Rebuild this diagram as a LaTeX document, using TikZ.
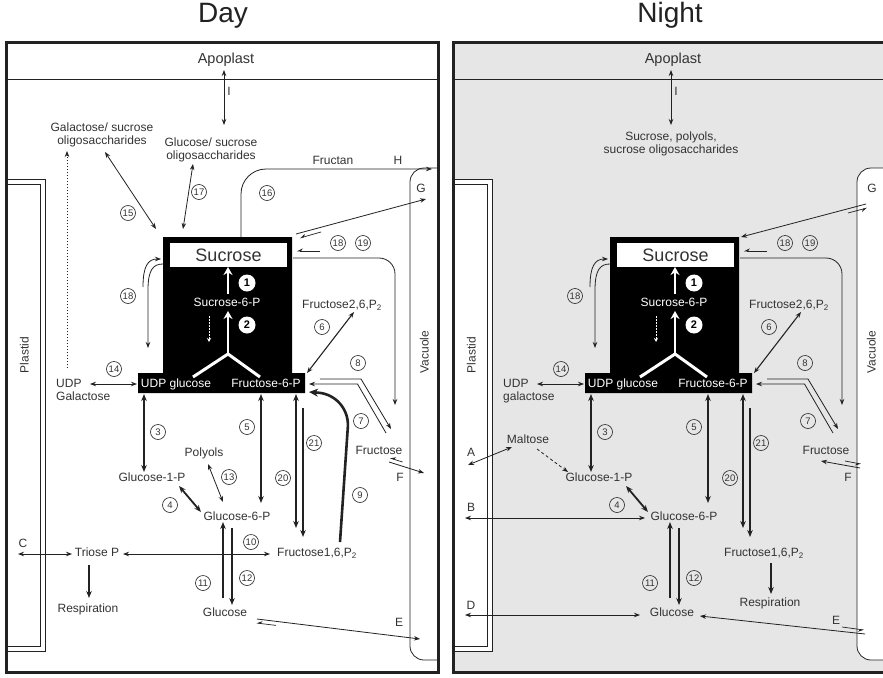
\documentclass[tikz,border=0pt]{standalone}
\usepackage{fontspec}
\setmainfont{Liberation Sans}
\usetikzlibrary{arrows.meta}
\definecolor{tx}{HTML}{333333}
\definecolor{ln}{HTML}{222222}
\definecolor{nbg}{HTML}{E6E6E6}
\tikzset{
  lbl/.style={font=\fontsize{12pt}{13pt}\selectfont, text=tx, inner sep=0pt, text height=0.72em, text depth=0pt},
  mlbl/.style={font=\fontsize{12pt}{13pt}\selectfont, text=tx, inner sep=0pt, align=center, anchor=north},
  wlbl/.style={lbl, text=white},
  num/.style={circle, draw=ln, line width=0.6pt, minimum size=15pt, inner sep=0pt, font=\fontsize{9.5pt}{10pt}\selectfont, text=tx},
  wnum/.style={circle, fill=white, minimum size=17pt, inner sep=0pt, font=\bfseries\fontsize{11pt}{11pt}\selectfont, text=black},
  ttl/.style={font=\fontsize{28pt}{30pt}\selectfont, text=ln, inner sep=0pt, text height=0.72em, text depth=0pt},
  ar/.style={draw=ln, line width=0.8pt, -{Stealth[length=6pt,width=4.5pt]}},
  dar/.style={draw=ln, line width=0.8pt, {Stealth[length=6pt,width=4.5pt]}-{Stealth[length=6pt,width=4.5pt]}},
  tar/.style={draw=ln, line width=1.5pt, -{Stealth[length=7pt,width=5.5pt]}},
  tdar/.style={draw=ln, line width=1.5pt, {Stealth[length=7pt,width=5.5pt]}-{Stealth[length=7pt,width=5.5pt]}},
  harp/.style={draw=ln, line width=0.7pt, -{Stealth[harpoon,swap,length=5pt,width=5pt]}},
  wall/.style={draw=ln, line width=0.8pt},
}
\newcommand{\cellcommon}[2]{%
  % plastid
  \draw[wall, fill=white] (7,179) -- (45,179) -- (45,651) -- (7,651);
  \draw[wall] (7,184) -- (40,184) -- (40,646) -- (7,646);
  \node[lbl, rotate=90] (#1plastid) at (25,355) {Plastid};
  % vacuole
  \draw[wall, fill=white, rounded corners=14pt] (438,168) -- (410,168) -- (410,660) -- (438,660);
  \node[lbl, rotate=90] (#1vac) at (425,352) {Vacuole};
  % apoplast
  \node[lbl, font=\fontsize{14.5pt}{15pt}\selectfont] (#1apo) at (226,60) {Apoplast};
  \draw[dar] (224,70) -- (224,125);
  \node[lbl] (#1I) at (229,92) {I};
  % black block
  \fill[black] (163,237) -- (292,237) -- (292,373) -- (305,373) -- (305,393) -- (138,393) -- (138,373) -- (163,373) -- cycle;
  \node[fill=white, minimum width=117pt, minimum height=24pt, inner sep=0pt, font=\fontsize{18pt}{18pt}\selectfont, text=tx] (#1suc) at (228.5,255) {Sucrose};
  \draw[white, line width=2.4pt, -{Stealth[length=8pt,width=9pt]}] (228,294) -- (228,267);
  \node[wlbl] (#1s6p) at (227,303) {Sucrose-6-P};
  \draw[white, line width=2.4pt, -{Stealth[length=8pt,width=9pt]}] (228,355) -- (228,311);
  \draw[white, line width=3pt] (193,377) -- (228,354) -- (260,377);
  \draw[white, line width=0.9pt, dash pattern=on 1.5pt off 1.5pt, -{Stealth[length=4pt,width=4pt]}] (209,316) -- (209,342);
  \node[wnum] (#1n1) at (247,283) {1};
  \node[wnum] (#1n2) at (247,325) {2};
  \node[wlbl] (#1udpg) at (176,384) {UDP glucose};
  \node[wlbl] (#1f6p) at (266,384) {Fructose-6-P};
  % 18 left
  \draw[ar] (143,287) .. controls (143,266) and (148,259) .. (161,259);
  \draw[ar] (163,264) .. controls (153,264) and (148,270) .. (148,290) -- (148,348);
  \node[num] (#1n18a) at (128,296) {18};
  % 18 19 right
  \node[num] (#1n18b) at (338,243) {18};
  \node[num] (#1n19) at (363,243) {19};
  \draw[harp] (320,251) -- (297,251);
  \draw[ar, rounded corners=16pt] (293,258) -- (395,258) -- (395,405);
  % fructose 2,6
  \node[lbl] (#1f26) at (342,305) {Fructose2,6,P\textsubscript{2}};
  \node[num] (#1n6) at (322,327) {6};
  \draw[dar, line width=1.1pt] (307,373) -- (354,312);
  % 7 8
  \node[num] (#1n8) at (358,363) {8};
  \node[num] (#1n7) at (361,421) {7};
  \draw[ar] (386,433) -- (357.5,384) -- (309,384);
  \draw[ar] (320,379) -- (361,379) -- (391,429);
  \node[lbl] (#1fru) at (379,451) {Fructose};
  % 14
  \node[num] (#1n14) at (114,369) {14};
  \draw[dar] (90,384) -- (137,384);
  \node[lbl, anchor=west] (#1udp) at (56,384) {UDP};
  \node[lbl, anchor=west] (#1gal) at (56,397) {#2};
  % 3
  \draw[tdar] (144,394) -- (144,472);
  \node[num] (#1n3) at (158,432) {3};
  \node[lbl] (#1g1p) at (152,478) {Glucose-1-P};
  % 5
  \draw[tdar] (261,394) -- (261,503);
  \node[num] (#1n5) at (247,427) {5};
  \node[lbl] (#1g6p) at (237,517) {Glucose-6-P};
  % 4
  \draw[tdar, line width=1.8pt] (179,486) -- (201,512);
  \node[num] (#1n4) at (170,505) {4};
  % 20 21
  \draw[tdar] (296,394) -- (296,528);
  \draw[tar] (303,408) -- (303,537);
  \node[num] (#1n20) at (283,478) {20};
  \node[num] (#1n21) at (314,443) {21};
  \node[lbl] (#1f16) at (317,553) {Fructose1,6,P\textsubscript{2}};
  % 11 12
  \draw[tar] (223,598) -- (223,522);
  \draw[tar] (232,528) -- (232,605);
  \node[num] (#1n11) at (203,583) {11};
  \node[num] (#1n12) at (247,578) {12};
  \node[lbl] (#1glc) at (225,613) {Glucose};
}
\begin{document}
\begin{tikzpicture}[x=1pt,y=-1pt]
\useasboundingbox (0,0) rectangle (883,677);
\clip (0,0) rectangle (883,677);
\fill[white] (0,0) rectangle (883,677);
\fill[nbg] (453,43) rectangle (885,672);

% ---------------- common parts
\begin{scope}
\cellcommon{d}{Galactose}
\end{scope}
\begin{scope}[xshift=447pt]
\cellcommon{n}{galactose}
\end{scope}

% ---------------- Day only
\node[ttl] (daytitle) at (223,19) {Day};
\node[mlbl] (galoli) at (102,122.5) {Galactose/ sucrose\\oligosaccharides};
\node[mlbl] (gluoli) at (211,137.5) {Glucose/ sucrose\\oligosaccharides};
\draw[ln, line width=0.8pt, dash pattern=on 1.5pt off 1.5pt, -{Stealth[length=6pt,width=4.5pt]}] (67,368) -- (67,151);
\draw[dar] (105,152) -- (156,229);
\node[num] (dn15) at (128,213) {15};
\draw[dar] (193,164) -- (183,229);
\node[num] (dn17) at (199,192) {17};
\draw[ar, rounded corners=25pt] (241,237) -- (241,169) -- (432,169);
\node[num] (dn16) at (267,193) {16};
\node[lbl] (fructan) at (333,161) {Fructan};
\node[lbl] (dH) at (398,161) {H};
% G out
\draw[ar] (296,234) -- (426,199);
\draw[harp] (321,232) -- (300,238);
\node[lbl] (dG) at (421,189) {G};
% F out
\draw[ar] (389,462) -- (424,473);
\draw[harp] (402.5,462) -- (390,458);
\node[lbl] (dF) at (400,478) {F};
% 9
\draw[ln, line width=2.6pt, -{Stealth[length=9pt,width=8pt]}, rounded corners=32pt] (340,542) -- (350,395) -- (309,392);
\node[num] (dn9) at (360,495) {9};
% polyols
\node[lbl] (polyols) at (204,453) {Polyols};
\draw[dar] (208,464) -- (223,502);
\node[num] (dn13) at (229,477) {13};
% triose
\node[lbl] (triose) at (97,553) {Triose P};
\draw[dar] (123,554) -- (270,554);
\node[num] (dn10) at (251,542) {10};
\draw[dar] (18,554) -- (72,554);
\node[lbl] (dC) at (23,544) {C};
\draw[tar] (89,565) -- (89,598);
\node[lbl] (dresp) at (88,609) {Respiration};
% E out
\draw[ar] (257,619) -- (420,639);
\draw[harp] (276,625.4) -- (256.5,623);
\node[lbl] (dE) at (399,623) {E};

% ---------------- Night only
\node[ttl] (nighttitle) at (670,19) {Night};
\node[mlbl] (noli) at (671,131.5) {Sucrose, polyols,\\sucrose oligosaccharides};
% G in
\draw[ar] (866,204) -- (741,237);
\draw[harp] (848,213) -- (867,208);
\node[lbl] (nG) at (872,189) {G};
% F in
\draw[ar] (860,468) -- (821,461);
\draw[harp] (845,461) -- (861,464);
\node[lbl] (nF) at (848,478) {F};
% maltose
\node[lbl] (maltose) at (528,440) {Maltose};
\node[lbl] (nA) at (471,453) {A};
\draw[dar] (468,465) -- (512,447);
\draw[ln, line width=0.8pt, dash pattern=on 3pt off 2.5pt, -{Stealth[length=6pt,width=4.5pt]}] (537,449) -- (568,472);
% B, D
\node[lbl] (nB) at (471,508) {B};
\draw[dar] (465,518) -- (645,518);
\node[lbl] (nD) at (471,606) {D};
\draw[dar] (465,615) -- (640,615);
% E in
\draw[ar] (865,634) -- (700,616);
\draw[harp] (842,627) -- (864,630);
\node[lbl] (nE) at (836,621) {E};
% respiration
\draw[tar] (771,563) -- (771,594);
\node[lbl] (nresp) at (770,603) {Respiration};

% ---------------- borders
\draw[ln, line width=1pt] (6,79) -- (438,79);
\draw[ln, line width=1pt] (453,79) -- (885,79);
\draw[ln, line width=3pt] (6,43) rectangle (438,672);
\draw[ln, line width=3pt] (453,43) rectangle (885,672);
\end{tikzpicture}
\end{document}
